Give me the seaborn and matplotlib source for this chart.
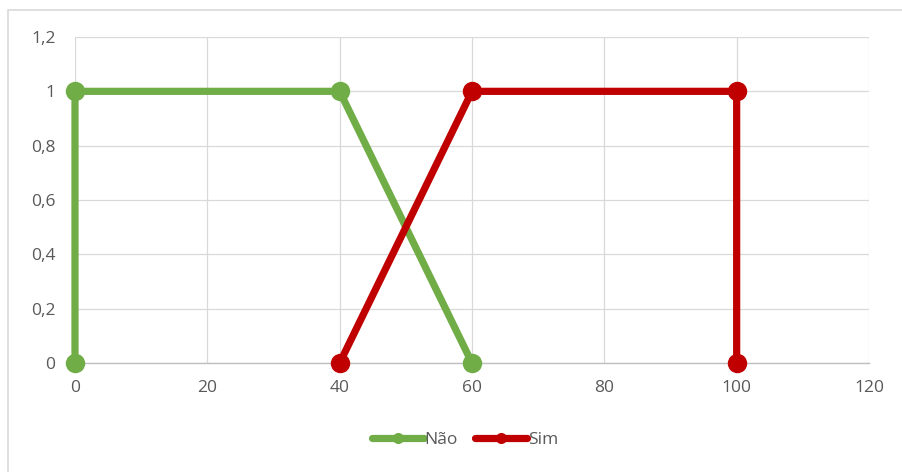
import matplotlib
matplotlib.use("Agg")
import matplotlib.pyplot as plt
import seaborn as sns
import pandas as pd
from matplotlib.patches import Rectangle

# Membership function data
nao_x = [0, 0, 40, 60]
nao_y = [0, 1, 1, 0]
sim_x = [40, 60, 100, 100]
sim_y = [0, 1, 1, 0]

series_names = ["Não", "Sim"]
series_colors = ["#70AD47", "#C00000"]

x_ticks = [0, 20, 40, 60, 80, 100, 120]
y_ticks = [0, 0.2, 0.4, 0.6, 0.8, 1.0, 1.2]
y_tick_labels = ["0", "0,2", "0,4", "0,6", "0,8", "1", "1,2"]

sns.set_theme(style="white")
plt.rcParams["font.family"] = ["Open Sans", "DejaVu Sans"]

fig = plt.figure(figsize=(9.02, 4.72), dpi=100)
ax = fig.add_axes([75 / 902, 1 - 363 / 472, (869 - 75) / 902, (363 - 37) / 472])

# Chart border
fig.patches.append(Rectangle((8 / 902, -0.05), 1.1, (1 - 10 / 472) + 0.05,
                             transform=fig.transFigure, fill=False,
                             edgecolor="#d9d9d9", linewidth=1.2))

frames = [
    pd.DataFrame({"x": nao_x, "y": nao_y, "serie": series_names[0]}),
    pd.DataFrame({"x": sim_x, "y": sim_y, "serie": series_names[1]}),
]
df = pd.concat(frames, ignore_index=True)

for name, color in zip(series_names, series_colors):
    sub = df[df["serie"] == name]
    sns.lineplot(data=sub, x="x", y="y", sort=False, ax=ax, color=color,
                 linewidth=5.2, marker="o", markersize=14, markeredgewidth=0,
                 label=name, solid_capstyle="round", solid_joinstyle="round",
                 estimator=None, clip_on=False, zorder=3)

ax.set_xlim(0, 120)
ax.set_ylim(0, 1.2)
ax.set_xticks(x_ticks)
ax.set_xticklabels([str(v) for v in x_ticks])
ax.set_yticks(y_ticks)
ax.set_yticklabels(y_tick_labels)
ax.set_xlabel("")
ax.set_ylabel("")

ax.grid(True, color="#d9d9d9", linewidth=0.9)
ax.set_axisbelow(True)
for side in ["top", "right", "left"]:
    ax.spines[side].set_visible(False)
ax.spines["bottom"].set_color("#bfbfbf")
ax.spines["bottom"].set_linewidth(1.0)
ax.tick_params(axis="both", length=0, labelsize=12.5, labelcolor="#595959")
ax.tick_params(axis="x", pad=12)
ax.tick_params(axis="y", pad=14)

leg = ax.legend(loc="center", bbox_to_anchor=(465 / 902, 1 - 440 / 472),
                bbox_transform=fig.transFigure, ncol=2, frameon=False,
                fontsize=12.5, handlelength=3.0, handletextpad=0.05,
                columnspacing=1.0, labelcolor="#595959")
for h in leg.legend_handles:
    h.set_markersize(8)
    h.set_linewidth(5.2)
    h.set_solid_capstyle("round")

fig.savefig("out.png", dpi=100)
